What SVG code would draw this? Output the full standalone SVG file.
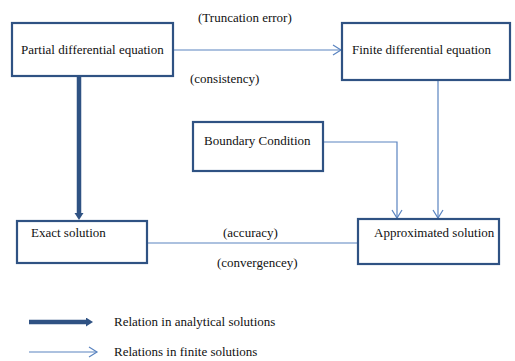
<svg xmlns="http://www.w3.org/2000/svg" width="515" height="361" viewBox="0 0 515 361">
<style>
.box{fill:#fff;stroke:#2f5283;stroke-width:2.2}
.t{font-family:"Liberation Serif","Times New Roman",serif;font-size:13px;fill:#111}
.thin{fill:none;stroke:#5a84c0;stroke-width:1.2}
.thick{fill:none;stroke:#2f5283;stroke-width:4.5}
</style>
<defs>
<marker id="open" markerWidth="12" markerHeight="12" refX="10" refY="6" orient="auto" markerUnits="userSpaceOnUse">
<path d="M2,1 L10,6 L2,11" fill="none" stroke="#5a84c0" stroke-width="1.2"/>
</marker>
<marker id="solid" markerWidth="8" markerHeight="10" refX="0" refY="4.5" orient="auto" markerUnits="userSpaceOnUse">
<path d="M0,0 L7,4.5 L0,9 Z" fill="#2f5283"/>
</marker>
</defs>
<rect width="515" height="361" fill="#fff"/>
<g id="connectors">
<line class="thin" x1="173" y1="50" x2="341" y2="50" marker-end="url(#open)"/>
<line class="thick" x1="79" y1="77" x2="79" y2="213" marker-end="url(#solid)"/>
<line class="thin" x1="438" y1="81" x2="438" y2="218" marker-end="url(#open)"/>
<polyline class="thin" points="323,142 397,142 397,218" marker-end="url(#open)"/>
<line class="thin" x1="148" y1="243" x2="358" y2="243"/>
<text class="t" x="198" y="22">(Truncation error)</text>
<text class="t" x="190" y="83">(consistency)</text>
<text class="t" x="223" y="237">(accuracy)</text>
<text class="t" x="217" y="267">(convergencey)</text>
</g>
<g id="pde">
<rect class="box" x="12" y="23" width="161" height="53"/>
<text class="t" x="21" y="54">Partial differential equation</text>
</g>
<g id="fde">
<rect class="box" x="342" y="23" width="168" height="57"/>
<text class="t" x="352" y="54">Finite differential equation</text>
</g>
<g id="boundary">
<rect class="box" x="193" y="122" width="130" height="49"/>
<text class="t" x="204" y="145">Boundary Condition</text>
</g>
<g id="exact">
<rect class="box" x="17" y="221" width="130" height="42"/>
<text class="t" x="31" y="237">Exact solution</text>
</g>
<g id="approx">
<rect class="box" x="358" y="219" width="141" height="45"/>
<text class="t" x="374" y="237">Approximated solution</text>
</g>
<g id="legend">
<line class="thick" x1="29" y1="322" x2="86" y2="322" marker-end="url(#solid)"/>
<text class="t" x="114" y="326">Relation in analytical solutions</text>
<line class="thin" x1="29" y1="352" x2="97" y2="352" marker-end="url(#open)"/>
<text class="t" x="114" y="356">Relations in finite solutions</text>
</g>
</svg>
